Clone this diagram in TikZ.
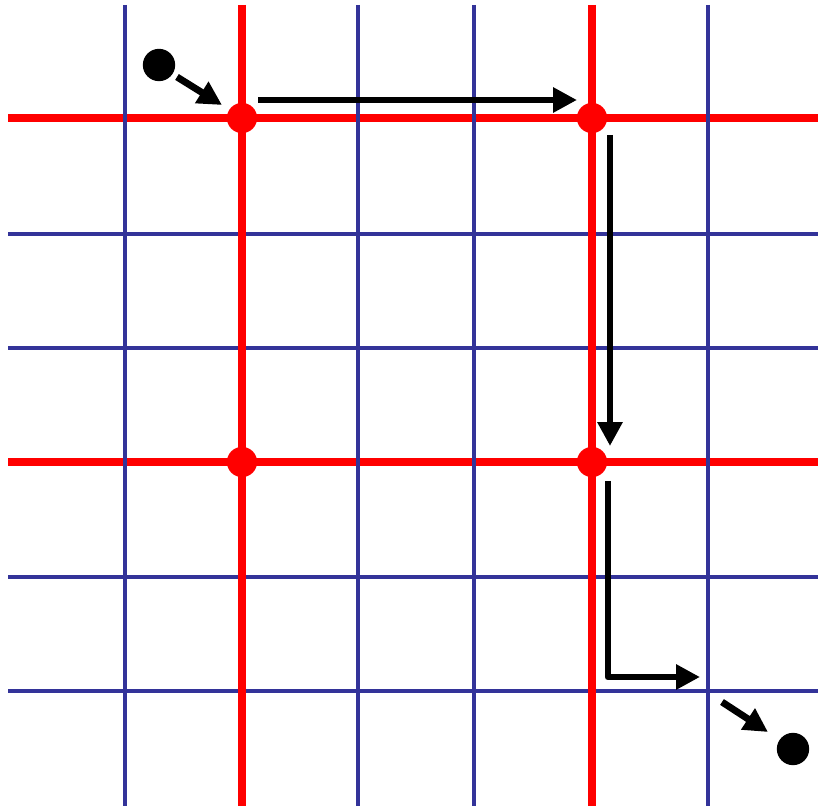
\documentclass[tikz,border=0pt]{standalone}
\usepackage{tikz}
\usetikzlibrary{arrows.meta,positioning}
\definecolor{gridblue}{RGB}{51,51,153}
\definecolor{gridred}{RGB}{255,0,0}

\begin{document}
\begin{tikzpicture}[x=0.025cm, y=-0.025cm,
  thin line/.style={gridblue, line width=2.9pt},
  thick line/.style={gridred, line width=5pt},
  red dot/.style={circle, fill=gridred, inner sep=0pt, minimum size=21.5pt},
  black dot/.style={circle, fill=black, inner sep=0pt, minimum size=23pt},
  move/.style={-{Triangle[length=17pt, width=17pt]}, line width=4.9pt, line join=round}]
\useasboundingbox (0,0) rectangle (818,806);
% horizontal lines
\foreach \y in {234,348,577,691} \draw[thin line] (8,\y) -- (818,\y);
\foreach \y in {118,462} \draw[thick line] (8,\y) -- (818,\y);
% vertical lines
\foreach \x in {125,358,474,708} \draw[thin line] (\x,5) -- (\x,806);
\foreach \x in {242,592} \draw[thick line] (\x,5) -- (\x,806);
% crossings
\node[red dot] (tl) at (242,118) {};
\node[red dot] (tr) at (592,118) {};
\node[red dot] (bl) at (242,462) {};
\node[red dot] (br) at (592,462) {};
\node[black dot] (start) at (159,65) {};
\node[black dot] (goal) at (793,749) {};
% path
\coordinate (a1) at (177,77);  \coordinate (a2) at (222,105);
\coordinate (b1) at (258,100); \coordinate (b2) at (577,100);
\coordinate (c1) at (610,135); \coordinate (c2) at (610,446);
\coordinate (d1) at (608,481); \coordinate (d2) at (608,677); \coordinate (d3) at (700,677);
\coordinate (e1) at (722,702); \coordinate (e2) at (768,732);
\draw[move] (a1) -- (a2);
\draw[move] (b1) -- (b2);
\draw[move] (c1) -- (c2);
\draw[move] (d1) -- (d2) -- (d3);
\draw[move] (e1) -- (e2);
\end{tikzpicture}
\end{document}
